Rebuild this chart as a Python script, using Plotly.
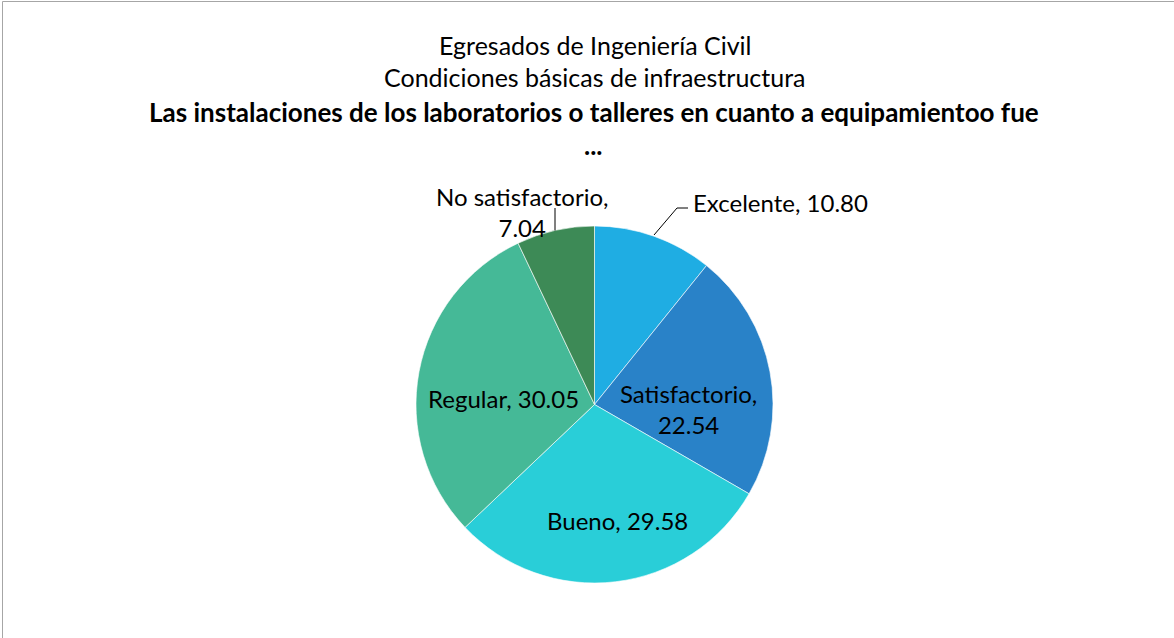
import plotly.graph_objects as go

labels = ["Excelente", "Satisfactorio", "Bueno", "Regular", "No satisfactorio"]
values = [10.80, 22.54, 29.58, 30.05, 7.04]
colors = ["#1FADE3", "#2982C8", "#29CED8", "#45B997", "#3D8A56"]
title_lines = ["Egresados de Ingeniería Civil", "Condiciones básicas de infraestructura"]
title_bold = "Las instalaciones de los laboratorios o talleres en cuanto a equipamientoo fue"

W, H = 1174, 638
FONT = "Lato"

def px(x):
    return x / W

def py(y):
    return 1 - y / H

cx, cy, r = 594.5, 404.5, 178.5

fig = go.Figure(go.Pie(
    labels=labels,
    values=values,
    sort=False,
    direction="clockwise",
    rotation=0,
    marker=dict(colors=colors, line=dict(color="white", width=0.6)),
    textinfo="none",
    hoverinfo="label+value",
    showlegend=False,
    domain=dict(x=[px(cx - r), px(cx + r)], y=[py(cy + r), py(cy - r)]),
))

annotations = []
for t, y in zip(title_lines, [45, 77]):
    annotations.append(dict(text=t, x=px(595), y=py(y), xref="paper", yref="paper",
                            showarrow=False, xanchor="center", yanchor="middle",
                            font=dict(family=FONT, size=25, color="black")))
annotations.append(dict(text="<b>" + title_bold + "</b>", x=px(594), y=py(112), xref="paper", yref="paper",
                        showarrow=False, xanchor="center", yanchor="middle",
                        font=dict(family=FONT, size=26, color="black")))
annotations.append(dict(text="<b>...</b>", x=px(594), y=py(145), xref="paper", yref="paper",
                        showarrow=False, xanchor="center", yanchor="middle",
                        font=dict(family=FONT, size=26, color="black")))

# data labels (text built from the data arrays)
label_text = [
    f"{labels[0]}, {values[0]:.2f}",
    f"{labels[1]},<br>{values[1]:.2f}",
    f"{labels[2]}, {values[2]:.2f}",
    f"{labels[3]}, {values[3]:.2f}",
    f"{labels[4]},<br>{values[4]:.2f}",
]
label_pos = [(691, 202, "left"), (688, 409, "center"), (617, 520, "center"),
             (503, 398, "center"), (522, 212, "center")]
for t, (x, y, anc) in zip(label_text, label_pos):
    annotations.append(dict(text=t, x=px(x), y=py(y), xref="paper", yref="paper",
                            showarrow=False, xanchor=anc, yanchor="middle",
                            font=dict(family=FONT, size=24, color="black")))

shapes = [
    dict(type="path", xref="paper", yref="paper",
         path=f"M {px(654)} {py(235)} L {px(677)} {py(208)} L {px(688)} {py(208)}",
         line=dict(color="black", width=1)),
    dict(type="line", xref="paper", yref="paper",
         x0=px(555), y0=py(208), x1=px(555), y1=py(230.5),
         line=dict(color="black", width=1)),
    # chart-area border (top and left edges visible)
    dict(type="path", xref="paper", yref="paper",
         path=f"M {px(2.5)} {py(660)} L {px(2.5)} {py(1.5)} L {px(1180)} {py(1.5)}",
         line=dict(color="#A6A6A6", width=1)),
]

fig.update_layout(
    width=W, height=H,
    margin=dict(l=0, r=0, t=0, b=0),
    paper_bgcolor="white",
    plot_bgcolor="white",
    annotations=annotations,
    shapes=shapes,
    font=dict(family=FONT),
)

fig.write_html("out.html", config={"displayModeBar": False},
               post_script="document.body.style.margin='0';document.body.style.overflow='hidden';")
